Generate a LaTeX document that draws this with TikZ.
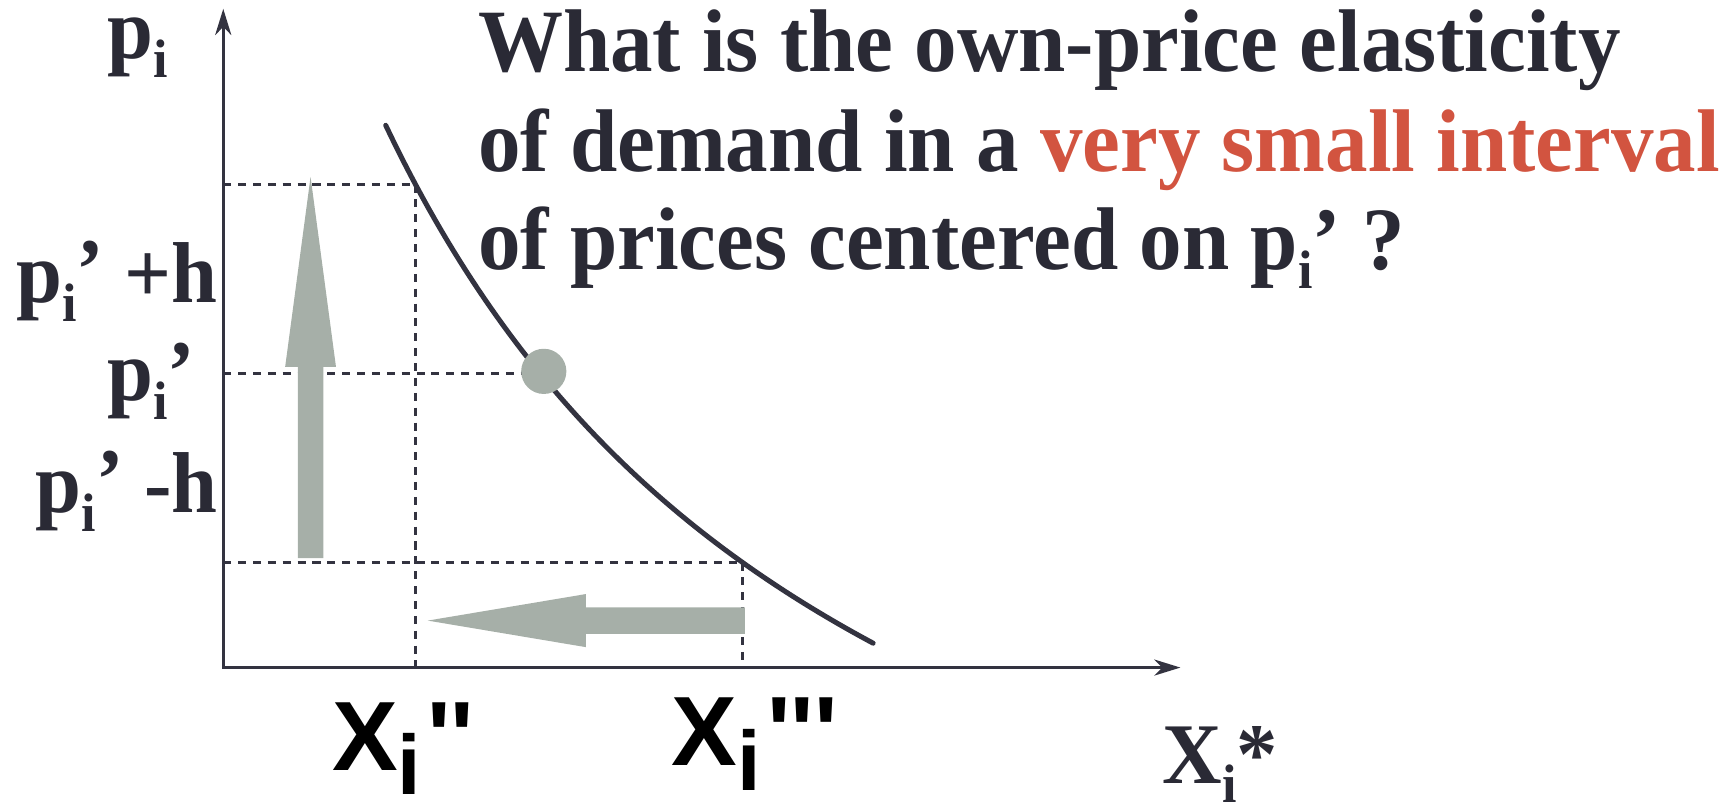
\documentclass[tikz,border=0pt]{standalone}
\usepackage{fontspec}
\setmainfont{Liberation Serif}
\newfontfamily\tnr{Liberation Serif}[FakeStretch=0.955]
\newfontfamily\ars{Liberation Sans}[Ligatures=TeXOff]
\usetikzlibrary{arrows.meta}
\definecolor{ink}{RGB}{42,42,53}
\definecolor{axisc}{RGB}{51,51,64}
\definecolor{hl}{RGB}{210,84,64}
\definecolor{arr}{RGB}{166,175,168}
\newcommand\subi{\raisebox{-9.5pt}{\fontsize{27}{27}\selectfont i}}
\newcommand\xsubi{\raisebox{-12pt}{\fontsize{42}{42}\selectfont i}}
\tikzset{
  axisline/.style={draw=axisc, line width=1.4pt},
  guide/.style={draw=axisc, line width=1.5pt, dash pattern=on 4pt off 3.4pt},
  demand/.style={draw=axisc, line width=2.5pt, line cap=round},
  bigarrow/.style={fill=arr, draw=none},
  ttl/.style={inner sep=0pt, outer sep=0pt, text=ink, font=\tnr\bfseries\fontsize{44.3}{44.3}\selectfont},
  ylab/.style={inner sep=0pt, outer sep=0pt, text=ink, font=\tnr\bfseries\fontsize{43}{43}\selectfont},
  xlab/.style={inner sep=0pt, outer sep=0pt, text=black, font=\ars\bfseries\fontsize{49}{49}\selectfont},
  tipa/.tip={Stealth[length=13pt, width=8pt, inset=4pt]}
}
\begin{document}
\begin{tikzpicture}[x=0.55pt, y=-0.55pt]
\useasboundingbox (0,0) rectangle (1568,726);
% axes
\coordinate (O) at (202,604);
\coordinate (Ytop) at (202,8);
\coordinate (Xend) at (1068,604);
\draw[axisline, tipa-tipa] (Ytop) -- (O) -- (Xend);
% guide points
\coordinate (A) at (376,167);
\coordinate (B) at (487,338);
\coordinate (C) at (672,509);
\coordinate (Ay) at (202,167);
\coordinate (By) at (202,338);
\coordinate (Cy) at (202,509);
\coordinate (Ax) at (376,604);
\coordinate (Cx) at (672,604);
\draw[guide] (Ay) -- (A);
\draw[guide] (By) -- (B);
\draw[guide] (Cy) -- (C);
\draw[guide] (A) -- (Ax);
\draw[guide] (C) -- (Cx);
% demand curve
\draw[demand] plot[domain=349:790, samples=80] (\x,{604-(-455+4245.8/((\x+100)/100))});
% point
\node[circle, fill=arr, minimum size=22.5pt, inner sep=0pt] (P) at (492,336) {};
% big arrows
\fill[bigarrow] (269.5,505) -- (269.5,332) -- (258,332) -- (281,160) -- (304,332) -- (292.5,332) -- (292.5,505) -- cycle;
\fill[bigarrow] (674,549.5) -- (530,549.5) -- (530,537.5) -- (387,561.5) -- (530,585.5) -- (530,573.5) -- (674,573.5) -- cycle;
% y labels
\node[ylab, anchor=base west] (lp) at (97,53) {p\subi};
\node[ylab, anchor=base east] (lph) at (197,274) {p\subi\raisebox{2pt}{’}\ +h};
\node[ylab, anchor=base west] (lp0) at (97,362) {p\subi’};
\node[ylab, anchor=base east] (lmh) at (197,464) {p\subi\raisebox{2pt}{’}\ -h};
% x labels
\node[xlab, anchor=base west] (x2) at (300.5,697) {X\xsubi\hspace{3pt}''};
\node[xlab, anchor=base west] (x3) at (608,693) {X\xsubi\hspace{3pt}'''};
\node[ylab, anchor=base west] (xs) at (1052,708.5) {X\subi*};
% title
\node[ttl, anchor=base west] (t1) at (432.5,65) {What is the own-price elasticity};
\node[ttl, anchor=base west] (t2) at (432.5,155.6) {of demand in a \textcolor{hl}{very small interval}};
\node[ttl, anchor=base west] (t3) at (432.5,244) {of prices centered on p\subi’ ?};
\end{tikzpicture}
\end{document}
